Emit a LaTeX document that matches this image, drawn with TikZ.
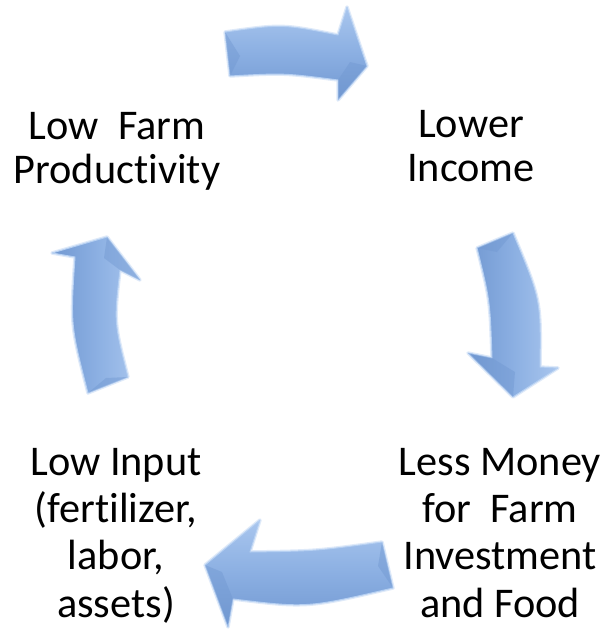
\documentclass[tikz,border=0pt]{standalone}
\usepackage{fontspec}
\setmainfont{Carlito}[Ligatures={NoCommon,NoContextual}]
\begin{document}
\begin{tikzpicture}[x=1pt,y=-1pt,
  lbl/.style={align=center,inner sep=0pt,font=\fontsize{42.3}{44.5}\selectfont},
  lblb/.style={align=center,inner sep=0pt,font=\fontsize{42.3}{47.3}\selectfont},
  glow/.style={draw=glowc,line width=3.5pt,line join=round,opacity=0.7},
  hbody/.style={top color=hiblue,bottom color=loblue,middle color=midblue,draw=edgeblue,line width=1pt,line join=round},
  vbody/.style={left color=loblue,right color=hiblue,middle color=midblue,draw=edgeblue,line width=1pt,line join=round},
  facet/.style={fill=loblue,opacity=0.45}]
\definecolor{hiblue}{HTML}{A9C6EE}
\definecolor{midblue}{HTML}{8BAFE2}
\definecolor{loblue}{HTML}{7198D1}
\definecolor{edgeblue}{HTML}{B6D0F2}
\definecolor{glowc}{HTML}{D2E1F6}
\useasboundingbox (0,0) rectangle (605,629);

% labels
\node[lbl,anchor=north] (prod) at (117,111.8) {Low\ \ Farm\\Productivity};
\node[lbl,anchor=north] (inc) at (471,109.8) {Lower\\Income};
\node[lblb,anchor=north] (money) at (500,447.8) {Less Money\\for\ \ Farm\\Investment\\and Food};
\node[lblb,anchor=north] (input) at (116,447.8) {Low Input\\(fertilizer,\\labor,\\assets)};

% top arrow
\path[glow] (225,32) .. controls (282,24) .. (338,35) -- (347,7) -- (367,66) -- (338,100) -- (338,80) .. controls (284,73) .. (230,76) -- cycle;
\path[hbody] (225,32) .. controls (282,24) .. (338,35) -- (347,7) -- (367,66) -- (338,100) -- (338,80) .. controls (284,73) .. (230,76) -- cycle;
\fill[facet] (367,66) -- (338,100) -- (338,80) -- (350,62) -- cycle;
\fill[facet] (225,32) -- (230,76) -- (240,56) -- cycle;

% right arrow
\path[glow] (513,233) .. controls (541,300) .. (540,367) -- (558,368) -- (513,397) -- (468,353) -- (492,358) .. controls (490,300) .. (477,248) -- cycle;
\path[vbody] (513,233) .. controls (541,300) .. (540,367) -- (558,368) -- (513,397) -- (468,353) -- (492,358) .. controls (490,300) .. (477,248) -- cycle;
\fill[facet] (468,353) -- (513,397) -- (515,372) -- (492,358) -- cycle;
\fill[facet] (477,248) -- (513,233) -- (497,252) -- cycle;

% bottom arrow
\path[glow] (382,542) .. controls (316,551) .. (250,552) -- (260,520) -- (205,565) -- (228,627) -- (233,599) .. controls (307,608) .. (393,588) -- cycle;
\path[hbody] (382,542) .. controls (316,551) .. (250,552) -- (260,520) -- (205,565) -- (228,627) -- (233,599) .. controls (307,608) .. (393,588) -- cycle;
\fill[facet] (205,565) -- (228,627) -- (233,599) -- (222,572) -- cycle;
\fill[facet] (382,542) -- (393,588) -- (378,566) -- cycle;

% left arrow
\path[glow] (107,237) -- (140,280) -- (120,270) .. controls (114,322) .. (128,377) -- (88,393) .. controls (70.5,325) .. (75,257) -- (52,253) -- cycle;
\path[vbody] (107,237) -- (140,280) -- (120,270) .. controls (114,322) .. (128,377) -- (88,393) .. controls (70.5,325) .. (75,257) -- (52,253) -- cycle;
\fill[facet] (107,237) -- (140,280) -- (120,270) -- (104,258) -- cycle;
\fill[facet] (128,377) -- (88,393) -- (106,378) -- cycle;
\end{tikzpicture}
\end{document}
